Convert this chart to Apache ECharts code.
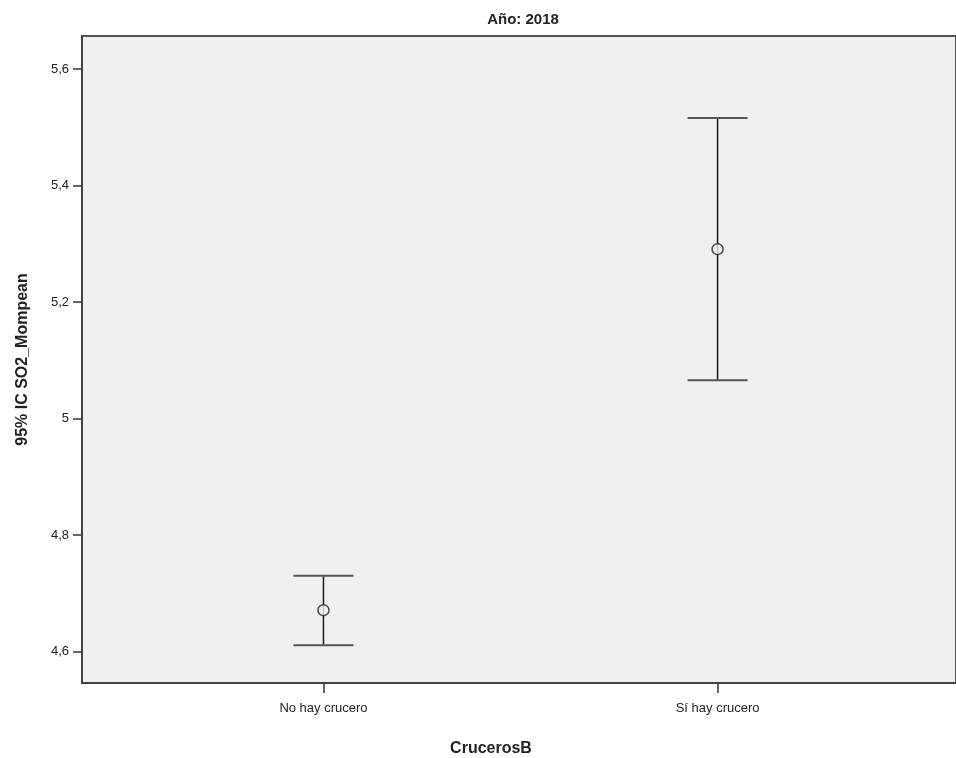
<!DOCTYPE html>
<html><head><meta charset="utf-8">
<script src="https://cdn.jsdelivr.net/npm/echarts@6/dist/echarts.min.js"></script>
<style>html,body{margin:0;padding:0;background:#fff}#c{width:956px;height:758px}</style>
</head><body><div id="c"></div>
<script>
const categories = ['No hay crucero', 'Sí hay crucero'];
const meanValues = [4.671, 5.291];
const lowerValues = [4.611, 5.066];
const upperValues = [4.730, 5.516];
const yTicks = [4.6, 4.8, 5.0, 5.2, 5.4, 5.6];
const catPos = [0, 1];

const chart = echarts.init(document.getElementById('c'), null, {renderer: 'canvas'});
const fmt = v => { let s = (Math.round(v * 10) / 10).toString(); return s.replace('.', ','); };

chart.setOption({
  animation: false,
  backgroundColor: '#ffffff',
  title: [
    {text: 'Año: 2018', left: 518, top: 7, textAlign: 'center',
     textStyle: {fontFamily: 'Liberation Sans Narrow, Arial Narrow, Liberation Sans, Arial', fontWeight: 'bold', fontSize: 15, color: '#222'}},
    {text: 'CrucerosB', left: 486, top: 736, textAlign: 'center',
     textStyle: {fontFamily: 'Liberation Sans, Arial', fontWeight: 'bold', fontSize: 16, color: '#222'}}
  ],
  grid: {left: 82, right: -2, top: 36, bottom: 75, show: true, backgroundColor: '#f0f0f0', borderColor: '#555', borderWidth: 2},
  xAxis: {
    type: 'value', min: -0.6127, max: 1.605,
    splitLine: {show: false},
    axisLine: {show: true, onZero: false, lineStyle: {color: '#444', width: 2}},
    axisTick: {show: true, length: 10, customValues: catPos, lineStyle: {color: '#333', width: 1.5}},
    axisLabel: {customValues: catPos, formatter: v => categories[Math.round(v)] || '', fontFamily: 'Liberation Sans, Arial', fontSize: 13, color: '#222', margin: 19}
  },
  yAxis: {
    type: 'value', min: 4.546, max: 5.657,
    name: '95% IC SO2_Mompean', nameLocation: 'middle', nameGap: 51,
    nameTextStyle: {fontFamily: 'Liberation Sans, Arial', fontWeight: 'bold', fontSize: 16, color: '#222'},
    splitLine: {show: false},
    axisLine: {show: true, onZero: false, lineStyle: {color: '#444', width: 2}},
    axisTick: {show: true, length: 9, customValues: yTicks, lineStyle: {color: '#333', width: 1.5}},
    axisLabel: {customValues: yTicks, formatter: fmt, fontFamily: 'Liberation Sans, Arial', fontSize: 13, color: '#222', margin: 13}
  },
  series: [
    {
      type: 'custom',
      data: catPos.map((x, i) => [x, lowerValues[i], upperValues[i]]),
      renderItem: (params, api) => {
        const x = api.value(0);
        const lo = api.coord([x, api.value(1)]);
        const hi = api.coord([x, api.value(2)]);
        const half = 30;
        return {type: 'group', children: [
          {type: 'line', shape: {x1: lo[0], y1: lo[1], x2: hi[0], y2: hi[1]}, style: {stroke: '#1a1a1a', lineWidth: 1.5}},
          {type: 'line', shape: {x1: hi[0] - half, y1: hi[1], x2: hi[0] + half, y2: hi[1]}, style: {stroke: '#555', lineWidth: 2}},
          {type: 'line', shape: {x1: lo[0] - half, y1: lo[1], x2: lo[0] + half, y2: lo[1]}, style: {stroke: '#555', lineWidth: 2}}
        ]};
      },
      z: 2
    },
    {
      type: 'scatter',
      data: catPos.map((x, i) => [x, meanValues[i]]),
      symbol: 'circle', symbolSize: 11,
      itemStyle: {color: '#f0f0f0', borderColor: '#222', borderWidth: 1.5},
      z: 3
    }
  ]
});
</script></body></html>
